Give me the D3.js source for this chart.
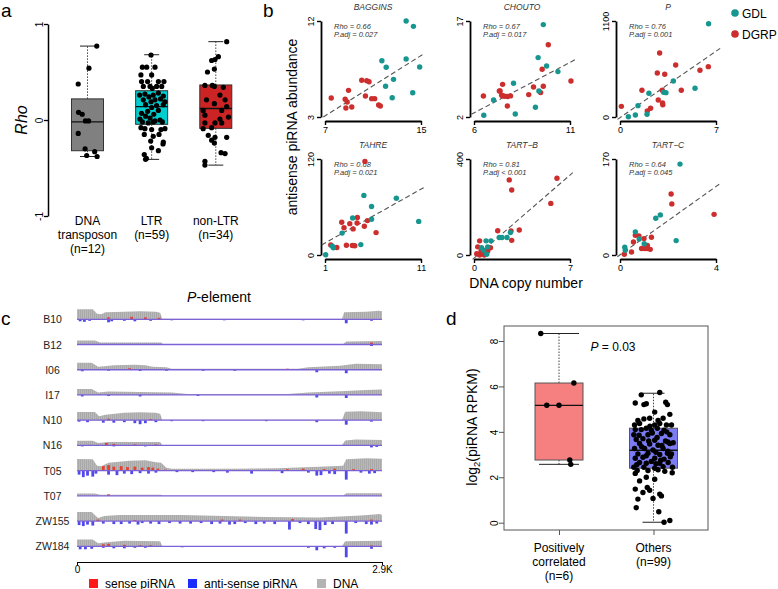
<!DOCTYPE html>
<html>
<head>
<meta charset="utf-8">
<script src="https://cdn.jsdelivr.net/npm/d3@7"></script>
<style>
  body { margin: 0; background: #fff; }
  svg { display: block; font-family: "Liberation Sans", Arial, Helvetica, sans-serif; }
</style>
</head>
<body>
<div id="fig"></div>
<script>
// ================= panel a data =================
var aCategories = ["DNA transposon", "LTR", "non-LTR"];
var aLabels = [["DNA", "transposon", "(n=12)"], ["LTR", "(n=59)"], ["non-LTR", "(n=34)"]];
var aColors = ["#808080", "#00cdcd", "#cc2424"];
// whisker low, q1, median, q3, whisker high
var aBoxStats = [[-0.38, -0.32, -0.02, 0.22, 0.77], [-0.41, -0.045, 0.14, 0.305, 0.68], [-0.47, -0.087, 0.12, 0.365, 0.816]];
// [rho, jitter (in box half widths)]
var aDnaPoints = [[0.77, 0.58], [0.54, 0.09], [0.375, -0.58], [0.08, -0.56], [0.06, -0.33], [-0.01, -0.13], [-0.01, 0.07],
  [-0.14, -0.58], [-0.30, -0.15], [-0.33, 0.45], [-0.37, -0.05], [-0.38, 0.6]];
var aLtrPoints = [[0.677, -0.04], [0.55, -0.58], [0.55, -0.31], [0.55, 0.21], [0.47, -0.67], [0.47, 0], [0.40, -0.25], [0.40, 0.42],
  [0.40, 0.77], [0.40, -0.63], [0.35, -0.52], [0.35, -0.1], [0.35, 0.31], [0.35, 0.63], [0.33, 0.04], [0.26, -0.75], [0.27, -0.42],
  [0.26, 0.1], [0.28, 0.42], [0.25, 0.73], [0.24, -0.17], [0.21, -0.52], [0.21, 0.21], [0.22, 0.56], [0.19, -0.04], [0.19, 0.83],
  [0.16, -0.38], [0.15, 0.31], [0.16, 0.73], [0.13, 0], [0.09, -0.25], [0.10, 0.42], [0.07, -0.63], [0.06, 0.13], [0.04, -0.38],
  [0.02, -0.1], [0.01, -0.73], [0.0, 0.52], [-0.01, 0.21], [-0.02, -0.58], [-0.03, -0.21], [-0.02, 0.1], [-0.02, 0.67],
  [-0.08, -0.67], [-0.09, -0.42], [-0.10, 0], [-0.10, 0.58], [-0.09, 0.83], [-0.17, 0.1], [-0.15, 0.46], [-0.15, -0.46],
  [-0.23, 0.73], [-0.22, -0.06], [-0.29, 0], [-0.25, 0.71], [-0.32, 0.42], [-0.36, -0.46], [-0.40, -0.33], [-0.41, -0.38]];
var aNonLtrPoints = [[0.816, 0.68], [0.62, -0.26], [0.63, -0.05], [0.66, 0.16], [0.50, -0.52], [0.53, -0.09], [0.36, -0.68],
  [0.36, -0.22], [0.35, -0.09], [0.34, 0.47], [0.26, 0.26], [0.21, -0.58], [0.21, 0.58], [0.17, -0.09], [0.14, 0.68],
  [0.10, -0.79], [0.10, 0.37], [0.05, -0.68], [0.03, 0.79], [0.01, 0.26], [-0.03, -0.68], [-0.03, -0.05], [-0.03, 0.37],
  [-0.09, -0.79], [-0.08, -0.26], [-0.16, -0.47], [-0.18, -0.05], [-0.18, 0.68], [-0.21, -0.26], [-0.24, -0.09],
  [-0.34, 0.33], [-0.35, 0.58], [-0.43, -0.68], [-0.47, -0.68]];
var aPoints = [aDnaPoints, aLtrPoints, aNonLtrPoints];

// ================= panel b data =================
var bTitles = ["BAGGINS", "CHOUTO", "P", "TAHRE", "TART\u2212B", "TART\u2212C"];
var bXTicks = [[7, 15], [6, 11], [0, 7], [1, 11], [0, 7], [0, 4]];
var bYTicks = [[3, 12], [2, 17], [0, 1100], [0, 120], [0, 400], [0, 170]];
var bStats = [["Rho = 0.66", "P.adj = 0.027"], ["Rho = 0.67", "P.adj = 0.017"], ["Rho = 0.76", "P.adj = 0.001"],
  ["Rho = 0.68", "P.adj = 0.021"], ["Rho = 0.81", "P.adj < 0.001"], ["Rho = 0.64", "P.adj = 0.045"]];
// fitted line end points [x0, y0, x1, y1]
var bFits = [[6.86, 3.0, 15.2, 8.9], [5.86, 2.42, 11.28, 10.97], [-0.18, -27, 7.3, 786],
  [0.65, 12.6, 11.4, 85], [-0.1, -18, 7.2, 343], [-0.11, -3, 4.19, 127]];

var bagginsGDL = [[13.76, 12.0], [14.37, 11.5], [11.74, 8.28], [12.1, 7.66], [13.76, 8.44], [14.89, 7.69], [12.71, 6.53],
  [12.05, 5.88], [14.31, 5.28], [12.6, 4.81]];
var bagginsDGRP = [[7.52, 4.78], [8.96, 5.5], [8.68, 4.66], [8.85, 4.41], [8.74, 3.84], [9.23, 3.94], [10.06, 6.44],
  [10.48, 6.41], [10.67, 6.31], [10.37, 4.97], [10.89, 4.72], [11.14, 4.72], [11.47, 4.13], [11.61, 4.03]];
var choutoGDL = [[9.61, 16.44], [9.34, 11.28], [9.78, 9.97], [10.37, 9.09], [8.06, 7.27], [9.38, 6.06], [9.2, 3.52],
  [8.15, 2.47], [7.02, 4.66], [6.51, 2.27]];
var choutoDGRP = [[9.87, 13.3], [9.55, 9.45], [11.05, 7.63], [9.1, 6.69], [9.61, 6.8], [9.47, 5.81], [8.85, 5.5],
  [7.36, 6.06], [7.5, 5.3], [7.6, 5.25], [7.75, 5.2], [7.9, 5.3], [7.74, 3.72], [7.49, 7.1], [7.32, 6.06], [7.44, 5.39],
  [6.49, 5.28]];
var pGDL = [[6.46, 1069], [3.89, 412], [3.18, 283], [3.35, 279], [2.11, 272], [5.47, 329], [1.31, 130], [1.12, 23],
  [0.61, 3], [1.97, 31]];
var pDGRP = [[2.89, 733], [4.06, 596], [6.44, 577], [5.83, 535], [2.72, 504], [3.26, 489], [1.6, 306], [4.47, 306],
  [3.08, 306], [2.79, 195], [3.1, 160], [3.12, 140], [2.23, 100], [1.99, 69], [0.1, 122]];
var tahreGDL = [[1.07, 0.3], [1.77, 11], [1.87, 9], [5.05, 74.5], [8.43, 71], [5.85, 60.6], [5.85, 44.6], [3.88, 46.3],
  [2.78, 27.4], [10.76, 42], [4.73, 13]];
var tahreDGRP = [[5.16, 117], [2.74, 41], [3.58, 39.2], [4.37, 47], [4.34, 40], [5.42, 43], [5.1, 36], [3.93, 32.6],
  [2.98, 34], [6.32, 28], [3.23, 12.2], [3.85, 11.8], [4.1, 11.5], [1.6, 12.6], [2.23, 9.3]];
var tartbGDL = [[1.84, 73], [2.41, 73], [2.65, 94], [1.24, 59], [0.88, 59], [1.0, 34], [0.93, 3], [0.7, 20], [2.04, 73],
  [0.55, 30]];
var tartbDGRP = [[2.57, 313], [1.73, 101], [0.27, 34], [0.51, 17], [1.0, 17], [0.75, 0], [0.41, 0], [0.41, 59],
  [6.05, 320], [2.75, 271], [5.6, 215], [3.3, 104], [2.7, 100], [2.75, 61], [0.2, 5], [0.6, 8], [1.2, 30]];
var tartcGDL = [[2.5, 161], [1.68, 71], [1.49, 65], [0.64, 41], [0.8, 28.5], [1.01, 20], [2.34, 25.5], [0.2, 13.7],
  [0.22, 8.3]];
var tartcDGRP = [[2.13, 108], [2.16, 90.5], [3.92, 72], [0.64, 35], [0.79, 33.6], [1.31, 31.4], [1.0, 29], [0.56, 23],
  [1.14, 17], [0.9, 11.4], [1.03, 11.4], [1.13, 11.4], [1.26, 10], [0.48, 5.4], [0.18, 1.2]];
var bGDL = [bagginsGDL, choutoGDL, pGDL, tahreGDL, tartbGDL, tartcGDL];
var bDGRP = [bagginsDGRP, choutoDGRP, pDGRP, tahreDGRP, tartbDGRP, tartcDGRP];

// ================= panel c data =================
var cTracks = ["B10", "B12", "I06", "I17", "N10", "N16", "T05", "T07", "ZW155", "ZW184"];
// DNA coverage profile, [kb, coverage]
var cDNA = [
  [[0, 10], [0.15, 10], [0.19, 5.5], [0.23, 5], [0.27, 7], [0.45, 7.5], [0.6, 8], [0.75, 7.5], [0.79, 6.5], [0.81, 0.5], [2.52, 0.6], [2.54, 7], [2.75, 7.5], [2.87, 8.5], [2.9, 8]],
  [[0, 4], [0.17, 4], [0.22, 2], [0.3, 2], [0.8, 2], [0.82, 0.3], [2.53, 0.3], [2.56, 3], [2.9, 3.5]],
  [[0, 7], [0.14, 7], [0.2, 3], [0.26, 3.5], [0.35, 4.5], [0.55, 5], [0.65, 4.5], [0.72, 3], [0.85, 2.5], [0.9, 1], [2.1, 1], [2.2, 2.5], [2.5, 4], [2.65, 6], [2.9, 5.5]],
  [[0, 6], [0.14, 6], [0.2, 2.5], [0.3, 3.5], [0.6, 3], [0.9, 2.5], [1.05, 1], [2.0, 1], [2.2, 2.5], [2.55, 4], [2.75, 5], [2.9, 5.5]],
  [[0, 8.3], [0.17, 8.3], [0.21, 4], [0.27, 5.5], [0.45, 7.5], [0.6, 8], [0.75, 7.5], [0.79, 6.5], [0.81, 0.4], [2.52, 0.5], [2.55, 8.5], [2.7, 9], [2.9, 8]],
  [[0, 4.7], [0.15, 4.7], [0.2, 2.5], [0.3, 3.5], [0.6, 3.5], [0.79, 3.3], [0.81, 0.3], [2.52, 0.4], [2.55, 5], [2.65, 6], [2.9, 5.5]],
  [[0, 11.7], [0.15, 11.5], [0.19, 5], [0.23, 4.5], [0.3, 8], [0.5, 10], [0.65, 10.5], [0.75, 8.5], [0.8, 8], [0.85, 3], [0.9, 2], [1.5, 2], [1.9, 2.5], [2.3, 4], [2.53, 5], [2.56, 11.5], [2.75, 12.5], [2.9, 12]],
  [[0, 2.3], [0.17, 2.3], [0.22, 1], [0.8, 1], [0.82, 0.3], [2.53, 0.3], [2.56, 2.5], [2.9, 2.5]],
  [[0, 9], [0.14, 9], [0.2, 3], [0.26, 5], [0.4, 6], [1.0, 6], [1.4, 5], [1.8, 4], [2.3, 3.5], [2.5, 4.5], [2.7, 5.5], [2.88, 7], [2.9, 6]],
  [[0, 6.7], [0.15, 6.7], [0.2, 3], [0.28, 4], [0.45, 5.5], [0.79, 5], [0.81, 0.3], [2.52, 0.4], [2.55, 5], [2.9, 5.5]]
];
// anti-sense piRNA, [kb, depth]
var cAnti = [
  [[0.03, 2], [0.07, 2.5], [0.12, 1.5], [0.3, 3], [0.33, 2], [0.45, 1.5], [0.55, 2], [0.7, 1.5], [0.9, 1], [1.4, 1], [2.15, 1], [2.56, 4], [2.8, 1.5]],
  [[2.8, 1.5]],
  [[0.05, 1.5], [0.3, 1], [0.6, 1.2], [0.85, 1], [1.2, 1], [1.5, 1], [2.28, 2.5], [2.56, 3.5]],
  [[0.05, 1.5], [0.3, 1], [0.6, 1.5], [1.15, 1], [2.28, 2.5], [2.56, 3]],
  [[0.02, 1.5], [0.1, 2], [0.25, 2.5], [0.35, 2.5], [0.45, 2], [0.55, 3], [0.6, 4], [0.65, 3], [0.75, 2], [0.9, 1], [1.2, 1], [1.8, 1], [2.28, 2], [2.56, 4.5], [2.8, 1.5]],
  [[0.05, 1], [0.35, 1], [0.65, 1], [2.8, 2], [2.85, 1.5]],
  [[0.02, 4], [0.06, 6.5], [0.1, 5], [0.15, 6], [0.18, 3], [0.3, 4], [0.38, 4.5], [0.45, 3], [0.52, 3.5], [0.6, 2.5], [0.68, 3], [0.75, 2], [0.95, 1.5], [1.1, 1.5], [1.3, 1.5], [1.43, 2], [1.66, 3], [1.95, 2.5], [2.2, 2], [2.28, 5], [2.32, 4.5], [2.4, 3], [2.45, 3.5], [2.56, 9], [2.7, 2], [2.78, 3], [2.83, 2.5]],
  [],
  [[0.02, 4], [0.06, 5], [0.1, 3.5], [0.15, 4.5], [0.25, 2.5], [0.35, 3], [0.42, 3], [0.5, 2.5], [0.58, 3.5], [0.62, 2], [0.7, 2.5], [0.78, 3], [0.88, 2], [0.98, 2.5], [1.08, 2.5], [1.18, 2], [1.28, 3], [1.36, 2.5], [1.45, 3.5], [1.5, 3], [1.6, 2], [1.7, 3], [1.78, 2.5], [1.88, 3], [2.02, 8.5], [2.12, 2], [2.2, 3], [2.27, 8], [2.31, 9], [2.36, 4], [2.43, 3], [2.56, 12.5], [2.65, 2], [2.75, 3], [2.8, 3.5], [2.85, 2.5]],
  [[0.03, 3], [0.08, 3], [0.14, 2.5], [0.25, 1.5], [0.35, 2], [0.45, 2], [0.55, 1.5], [0.65, 1.5], [1.0, 1], [2.2, 1.5], [2.28, 4], [2.35, 2], [2.45, 1.5], [2.56, 11], [2.8, 2.5]]
];
// sense piRNA, [kb, height]
var cSense = [
  [[0.3, 2], [0.52, 2.5], [0.65, 2], [0.78, 1.5]],
  [[2.8, 2]],
  [[0.5, 1.5], [2.0, 1]],
  [],
  [[0.3, 1.5], [0.7, 1]],
  [[0.28, 2.5], [0.35, 1.5], [0.55, 1], [0.75, 1]],
  [[0.25, 4.5], [0.3, 5.5], [0.35, 4], [0.42, 4.5], [0.48, 3.5], [0.55, 4], [0.62, 3], [0.68, 3.5], [0.72, 3], [0.77, 2], [0.84, 1], [2.0, 1.5], [2.15, 2], [2.35, 1.5], [2.45, 2], [2.63, 1.5], [2.8, 1.5]],
  [[0.3, 1.5]],
  [[0.2, 1.5], [0.55, 1], [1.38, 1.5], [1.55, 1.5], [2.05, 2], [2.8, 1.5]],
  [[0.25, 2], [0.3, 2.5], [0.45, 1.5], [0.6, 1], [0.7, 1], [2.8, 1]]
];

// ================= panel d data =================
var dCategories = ["Positively correlated", "Others"];
var dLabels = [["Positively", "correlated", "(n=6)"], ["Others", "(n=99)"]];
var dColors = ["#f67f7f", "#7b7bf4"];
var dBoxStats = [[2.57, 2.76, 5.17, 6.15, 8.33], [0.02, 2.40, 3.19, 4.16, 5.70]];
var dPositivePoints = [[8.33, -0.76], [5.17, -0.51], [5.17, 0], [6.15, 0.62], [2.76, 0.45], [2.57, 0.49]];
var dOtherPoints = [[5.63, -0.51], [5.73, 0.26], [5.27, -0.76], [5.2, -0.4], [5.24, -0.3], [5.3, 0.51], [5.2, 0.58],
  [4.87, 0.05], [4.77, 0.68], [4.5, -0.65], [4.57, -0.4], [4.6, -0.16], [4.5, 0.19], [4.6, 0.4], [4.3, -0.79], [4.37, -0.58],
  [4.3, 0.05], [4.37, 0.26], [4.3, 0.54], [4.3, 0.75], [4.1, -0.76], [4.1, -0.51], [4.16, -0.3], [4.07, -0.09], [4.16, 0.16],
  [4.07, 0.44], [3.87, -0.82], [3.87, -0.23], [3.93, 0.33], [3.87, 0.68], [3.66, -0.72], [3.7, -0.44], [3.63, 0.05],
  [3.6, 0.5], [3.49, -0.58], [3.46, -0.16], [3.41, 0.19], [3.49, 0.68], [3.52, 0.82], [3.27, -0.79], [3.27, -0.37],
  [3.2, -0.02], [3.27, 0.4], [3.03, -0.65], [3.06, -0.23], [3.0, 0.26], [3.06, 0.58], [3.03, 0.75], [2.84, -0.76],
  [2.88, -0.44], [2.84, 0.05], [2.8, 0.44], [2.65, -0.58], [2.62, -0.3], [2.7, -0.09], [2.62, 0.26], [2.65, 0.61],
  [2.44, -0.82], [2.44, -0.4], [2.4, 0.05], [2.47, 0.4], [2.44, 0.79], [2.3, -0.68], [2.3, -0.23], [2.33, 0.19],
  [2.26, 0.47], [2.17, -0.76], [2.2, 0.78], [1.84, -0.58], [1.91, 0.05], [1.48, -0.76], [1.55, -0.26], [1.43, -0.16],
  [1.33, -0.44], [1.26, 0.26], [1.04, -0.65], [1.07, -0.02], [1.18, 0.33], [0.66, -0.72], [0.48, 0.22], [0.02, 0.44],
  [0.1, 0.68], [3.95, -0.05], [3.75, 0.15], [3.35, -0.5], [3.15, 0.6], [2.95, -0.3], [2.75, 0.3], [3.6, -0.2],
  [4.0, 0.55], [2.55, -0.7], [3.1, 0.1], [3.85, -0.6], [2.9, 0.7], [3.4, 0.35], [4.25, -0.15], [2.6, 0.1], [3.55, 0.6],
  [2.0, -0.3]];
var dPoints = [dPositivePoints, dOtherPoints];

// ================= drawing =================
var svg = d3.select("#fig").append("svg")
  .attr("width", 778)
  .attr("height", 589);
svg.append("rect").attr("width", 778).attr("height", 589).attr("fill", "#fff");

function panelLabel(t, x, y) {
  svg.append("text").attr("x", x).attr("y", y).attr("font-size", 19).text(t);
}
panelLabel("a", 1, 17);
panelLabel("b", 263, 17);
panelLabel("c", 1, 325);
panelLabel("d", 446, 325);

// plain tick numbers, with an ascii minus like R
var plain = d => String(d);

// rotate tick labels the R way (reading upward)
function rotateTicks(g, off) {
  g.selectAll(".tick text")
    .attr("x", 0).attr("y", 0).attr("dy", null)
    .attr("text-anchor", "middle")
    .attr("transform", `translate(${-off},0) rotate(-90)`);
}

// boxplot helper (shared by a and d)
function drawBox(g, cx, half, cap, stats, fill, y, stroke) {
  g.append("line").attr("x1", cx).attr("x2", cx).attr("y1", y(stats[3])).attr("y2", y(stats[4]))
    .attr("stroke", "#444").attr("stroke-dasharray", "1.5,1.5");
  g.append("line").attr("x1", cx).attr("x2", cx).attr("y1", y(stats[1])).attr("y2", y(stats[0]))
    .attr("stroke", "#444").attr("stroke-dasharray", "1.5,1.5");
  [stats[0], stats[4]].forEach(function(v) {
    g.append("line").attr("x1", cx - cap).attr("x2", cx + cap).attr("y1", y(v)).attr("y2", y(v))
      .attr("stroke", "#222");
  });
  g.append("rect").attr("x", cx - half).attr("width", half * 2)
    .attr("y", y(stats[3])).attr("height", y(stats[1]) - y(stats[3]))
    .attr("fill", fill).attr("stroke", stroke);
  g.append("line").attr("x1", cx - half).attr("x2", cx + half).attr("y1", y(stats[2])).attr("y2", y(stats[2]))
    .attr("stroke", "#111").attr("stroke-width", 1.3);
}

// ---------- panel a ----------
var gA = svg.append("g");
var aY = d3.scaleLinear().domain([-1, 1]).range([216, 24]);
var aX = d3.scalePoint().domain(aCategories).range([87.5, 215.8]);

var aAxis = gA.append("g").attr("transform", "translate(48,0)")
  .call(d3.axisLeft(aY).tickValues([-1, 0, 1]).tickFormat(plain).tickSize(4).tickSizeOuter(0));
aAxis.select(".domain").attr("stroke-width", 1.5);
aAxis.selectAll(".tick line").attr("stroke-width", 1.3);
aAxis.selectAll(".tick text").attr("font-size", 10).attr("font-family", "Liberation Sans, Arial");
rotateTicks(aAxis, 5.5);

gA.append("text").attr("transform", "translate(27,120) rotate(-90)")
  .attr("text-anchor", "middle").attr("font-size", 16).attr("font-style", "italic").text("Rho");

aCategories.forEach(function(c, i) {
  var cx = aX(c);
  drawBox(gA, cx, 16, 7.5, aBoxStats[i], aColors[i], aY, "#333");
  gA.selectAll(null).data(aPoints[i]).enter().append("circle")
    .attr("cx", d => cx + d[1] * 16)
    .attr("cy", d => aY(d[0]))
    .attr("r", 2.6)
    .attr("fill", "#000");
  gA.selectAll(null).data(aLabels[i]).enter().append("text")
    .attr("x", cx)
    .attr("y", (d, k) => 225 + k * 14)
    .attr("text-anchor", "middle")
    .attr("font-size", 12)
    .text(d => d);
});

// ---------- panel b ----------
var gB = svg.append("g");
var bCols = [[325, 421], [474, 570], [620, 716]];
var bRows = [[117, 21], [255, 159]];

bTitles.forEach(function(title, i) {
  var col = bCols[i % 3], row = bRows[Math.floor(i / 3)];
  var xt = bXTicks[i], yt = bYTicks[i];
  var x = d3.scaleLinear().domain(xt).range(col);
  var y = d3.scaleLinear().domain(yt).range(row);
  var g = gB.append("g");

  var ya = g.append("g").attr("transform", `translate(${col[0] - 4},0)`)
    .call(d3.axisLeft(y).tickValues(yt).tickFormat(plain).tickSize(4).tickSizeOuter(0));
  ya.select(".domain").attr("stroke-width", 1.8);
  ya.selectAll(".tick line").attr("stroke-width", 1.4);
  ya.selectAll(".tick text").attr("font-size", 9).attr("font-family", "Liberation Sans, Arial");
  rotateTicks(ya, 7.5);

  var xa = g.append("g").attr("transform", `translate(0,${row[0] + 4})`)
    .call(d3.axisBottom(x).tickValues(xt).tickFormat(plain).tickSize(4).tickSizeOuter(0).tickPadding(1.5));
  xa.select(".domain").attr("stroke-width", 1.8);
  xa.selectAll(".tick line").attr("stroke-width", 1.4);
  xa.selectAll(".tick text").attr("font-size", 9).attr("font-family", "Liberation Sans, Arial");

  g.append("text").attr("x", (col[0] + col[1]) / 2).attr("y", row[1] - 11)
    .attr("text-anchor", "middle").attr("font-size", 8.5).attr("font-style", "italic")
    .attr("fill", "#333").text(title);

  g.selectAll(null).data(bStats[i]).enter().append("text")
    .attr("x", col[0] + 9)
    .attr("y", (d, k) => row[1] + 8 + k * 8)
    .attr("font-size", 7.5).attr("font-style", "italic").attr("fill", "#333")
    .text(d => d);

  var f = bFits[i];
  g.append("line")
    .attr("x1", x(f[0])).attr("y1", y(f[1]))
    .attr("x2", x(f[2])).attr("y2", y(f[3]))
    .attr("stroke", "#555").attr("stroke-width", 1.1).attr("stroke-dasharray", "5,3");

  g.selectAll(null).data(bDGRP[i]).enter().append("circle")
    .attr("cx", d => x(d[0])).attr("cy", d => y(d[1])).attr("r", 2.7).attr("fill", "#cc2e2e");
  g.selectAll(null).data(bGDL[i]).enter().append("circle")
    .attr("cx", d => x(d[0])).attr("cy", d => y(d[1])).attr("r", 2.7).attr("fill", "#17968f");
});

gB.append("text").attr("transform", "translate(297,127) rotate(-90)")
  .attr("text-anchor", "middle").attr("font-size", 14).text("antisense piRNA abundance");
gB.append("text").attr("x", 526).attr("y", 288)
  .attr("text-anchor", "middle").attr("font-size", 14).text("DNA copy number");

var legend = gB.selectAll(".leg").data([["GDL", "#17968f"], ["DGRP", "#cc2e2e"]]).enter().append("g")
  .attr("transform", (d, k) => `translate(735,${13 + k * 21})`);
legend.append("circle").attr("r", 3.8).attr("fill", d => d[1]);
legend.append("text").attr("x", 7).attr("y", 4.5).attr("font-size", 12).text(d => d[0]);

// ---------- panel c ----------
var gC = svg.append("g");
var defs = svg.append("defs");
var pat = defs.append("pattern").attr("id", "dnaHatch").attr("patternUnits", "userSpaceOnUse")
  .attr("width", 2).attr("height", 4);
pat.append("rect").attr("width", 2).attr("height", 4).attr("fill", "#b9b9b9");
pat.append("rect").attr("width", 1).attr("height", 4).attr("fill", "#a9a9a9");

var cX = d3.scaleLinear().domain([0, 2.9]).range([77, 382]);
var cH = d3.scaleLinear().domain([0, 10]).range([0, 10]);
var cY = d3.scalePoint().domain(cTracks).range([319.3, 546.3]);

gC.append("text").attr("x", 219).attr("y", 302).attr("text-anchor", "middle").attr("font-size", 14)
  .html('<tspan font-style="italic">P</tspan>-element');

cTracks.forEach(function(name, i) {
  var base = cY(name);
  var g = gC.append("g");
  g.append("text").attr("x", 52.5).attr("y", base + 4).attr("text-anchor", "middle")
    .attr("font-size", 10.5).attr("fill", "#222").text(name);
  var area = d3.area()
    .x(d => cX(d[0]))
    .y0(base)
    .y1(d => base - cH(d[1]));
  g.append("path").datum(cDNA[i]).attr("d", area).attr("fill", "url(#dnaHatch)");
  g.selectAll(null).data(cSense[i]).enter().append("rect")
    .attr("x", d => cX(d[0]) - 1.4).attr("width", 2.8)
    .attr("y", d => base - cH(d[1])).attr("height", d => cH(d[1]))
    .attr("fill", "#e8402f");
  g.selectAll(null).data(cAnti[i]).enter().append("rect")
    .attr("x", d => cX(d[0]) - 1.4).attr("width", 2.8)
    .attr("y", base).attr("height", d => cH(d[1]))
    .attr("fill", "#5048ea");
  g.append("line").attr("x1", cX(0)).attr("x2", cX(2.9)).attr("y1", base).attr("y2", base)
    .attr("stroke", "#7c62d8").attr("stroke-width", 1.3);
});

var cAxis = gC.append("g").attr("transform", "translate(0,562)")
  .call(d3.axisBottom(cX).tickValues([0, 2.9]).tickFormat(d => d ? "2.9K" : "0").tickSize(3).tickSizeOuter(0).tickPadding(1));
cAxis.selectAll(".tick text").attr("font-size", 10).attr("font-family", "Liberation Sans, Arial");

var cLegend = gC.selectAll(".cleg").data([["sense piRNA", "#ff1a1a", 89], ["anti-sense piRNA", "#1a2cff", 188], ["DNA", "#b3b3b3", 317]])
  .enter().append("g").attr("transform", d => `translate(${d[2]},579)`);
cLegend.append("rect").attr("width", 9).attr("height", 9).attr("fill", d => d[1]);
cLegend.append("text").attr("x", 16).attr("y", 8.5).attr("font-size", 12).text(d => d[0]);

// ---------- panel d ----------
var gD = svg.append("g");
var dY = d3.scaleLinear().domain([0, 8]).range([522.7, 341]);
var dX = d3.scalePoint().domain(dCategories).range([559, 653.5]);

gD.append("rect").attr("x", 504).attr("y", 326).attr("width", 204).attr("height", 204)
  .attr("fill", "none").attr("stroke", "#555");

var dAxis = gD.append("g").attr("transform", "translate(504,0)")
  .call(d3.axisLeft(dY).tickValues([0, 2, 4, 6, 8]).tickFormat(plain).tickSize(5).tickSizeOuter(0));
dAxis.select(".domain").remove();
dAxis.selectAll(".tick line").attr("stroke", "#555");
dAxis.selectAll(".tick text").attr("font-size", 10).attr("font-family", "Liberation Sans, Arial");
rotateTicks(dAxis, 6);

var dxAxis = gD.append("g").attr("transform", "translate(0,530)")
  .call(d3.axisBottom(dX).tickSize(5).tickSizeOuter(0).tickFormat(""));
dxAxis.select(".domain").remove();
dxAxis.selectAll(".tick line").attr("stroke", "#555");

dCategories.forEach(function(c, i) {
  var cx = dX(c);
  drawBox(gD, cx, 24, i ? 11 : 20, dBoxStats[i], dColors[i], dY, "#555");
  gD.selectAll(null).data(dPoints[i]).enter().append("circle")
    .attr("cx", d => cx + d[1] * 24)
    .attr("cy", d => dY(d[0]))
    .attr("r", 2.7)
    .attr("fill", "#000");
  gD.selectAll(null).data(dLabels[i]).enter().append("text")
    .attr("x", cx)
    .attr("y", (d, k) => 552 + k * 14)
    .attr("text-anchor", "middle")
    .attr("font-size", 12)
    .text(d => d);
});

gD.append("text").attr("x", 613).attr("y", 351).attr("text-anchor", "middle").attr("font-size", 12)
  .html('<tspan font-style="italic">P</tspan> = 0.03');

gD.append("text").attr("transform", "translate(477,427) rotate(-90)").attr("text-anchor", "middle")
  .attr("font-size", 14)
  .html('log<tspan font-size="9.5" dy="3">2</tspan><tspan dy="-3">(piRNA RPKM)</tspan>');
</script>
</body>
</html>
